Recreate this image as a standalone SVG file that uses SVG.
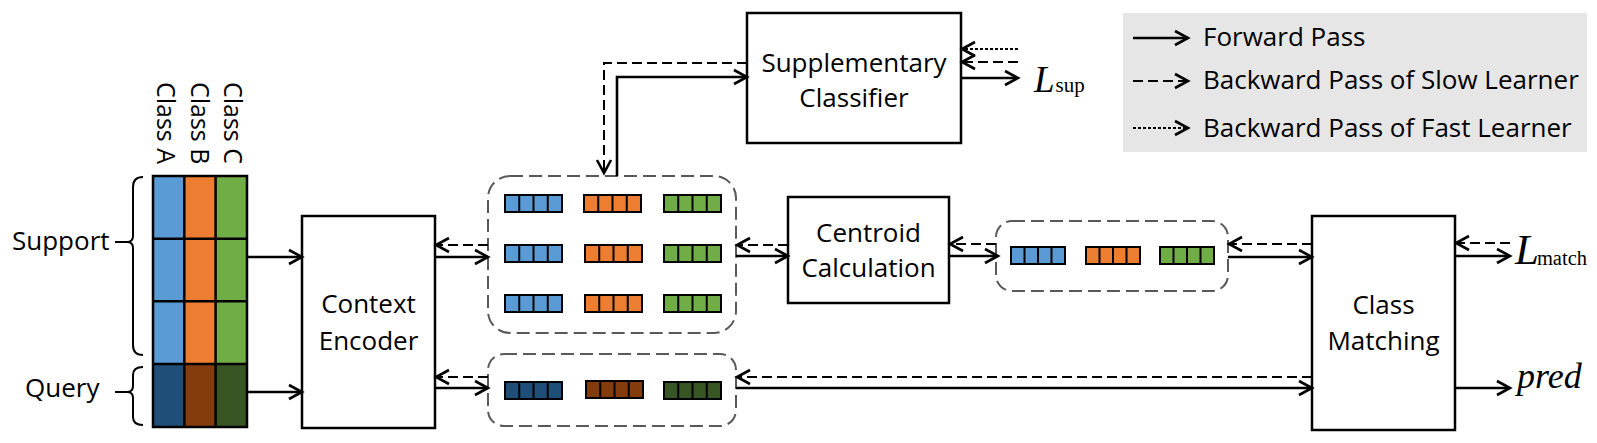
<svg xmlns="http://www.w3.org/2000/svg" xmlns:xlink="http://www.w3.org/1999/xlink" width="1597" height="443" viewBox="0 0 1597 443">
<style>
text{font-family:"Open Sans","Noto Sans","Liberation Sans",sans-serif;fill:#000}
.lbl{font-size:26px}
.mid{text-anchor:middle}
.cls{font-size:25px}
.math{font-family:"Liberation Serif","DejaVu Serif",serif;font-style:italic}
.sub{font-family:"Liberation Serif","DejaVu Serif",serif;font-style:normal}
.box{fill:#fff;stroke:#000;stroke-width:2.5}
.grp{fill:none;stroke:#595959;stroke-width:2;stroke-dasharray:13 6}
.cell{stroke:#000;stroke-width:2}
.fw{fill:none;stroke:#000;stroke-width:2.6;marker-end:url(#ah)}
.bw{fill:none;stroke:#000;stroke-width:2;stroke-dasharray:10 5;marker-end:url(#ah)}
.ft{fill:none;stroke:#000;stroke-width:2;stroke-dasharray:3 2;marker-end:url(#ah)}
.brace{fill:none;stroke:#000;stroke-width:2}
</style>
<defs>
<marker id="ah" markerUnits="userSpaceOnUse" markerWidth="18" markerHeight="18" viewBox="0 0 18 18" refX="15" refY="9" orient="auto">
<path d="M2,2 L15,9 L2,16" fill="none" stroke="#000" stroke-width="2.6" stroke-linejoin="miter"/>
</marker>
<g id="emb" class="cell"><rect x="0" y="0" width="57" height="17"/><line x1="14.25" y1="0" x2="14.25" y2="17"/><line x1="28.5" y1="0" x2="28.5" y2="17"/><line x1="42.75" y1="0" x2="42.75" y2="17"/></g>
<g id="emb2" class="cell"><rect x="0" y="0" width="54" height="17"/><line x1="13.5" y1="0" x2="13.5" y2="17"/><line x1="27" y1="0" x2="27" y2="17"/><line x1="40.5" y1="0" x2="40.5" y2="17"/></g>
</defs>
<rect width="1597" height="443" fill="#fff"/>

<g id="legend">
<rect x="1123" y="13" width="464" height="139" fill="#e6e6e6"/>
<path class="fw" d="M1133,38 H1188"/>
<path class="bw" d="M1133,81 H1188"/>
<path class="ft" d="M1133,128 H1188"/>
<text class="lbl" x="1203" y="46">Forward Pass</text>
<text class="lbl" x="1203" y="89">Backward Pass of Slow Learner</text>
<text class="lbl" x="1203" y="137">Backward Pass of Fast Learner</text>
</g>

<g id="input-grid">
<rect x="153" y="176" width="31.3" height="188" fill="#5b9bd5"/>
<rect x="184.3" y="176" width="31.3" height="188" fill="#ed7d31"/>
<rect x="215.6" y="176" width="31.4" height="188" fill="#70ad47"/>
<rect x="153" y="364" width="31.3" height="63" fill="#1f4e79"/>
<rect x="184.3" y="364" width="31.3" height="63" fill="#843c0c"/>
<rect x="215.6" y="364" width="31.4" height="63" fill="#375623"/>
<g fill="none" stroke="#000" stroke-width="2.5">
<rect x="153" y="176" width="94" height="251"/>
<path d="M184.3,176 V427 M215.6,176 V427 M153,238.7 H247 M153,301.3 H247 M153,364 H247"/>
</g>
<text class="cls" transform="translate(157,82) rotate(90)">Class A</text>
<text class="cls" transform="translate(190.5,82) rotate(90)">Class B</text>
<text class="cls" transform="translate(223.5,82) rotate(90)">Class C</text>
</g>

<g id="support-label">
<text class="lbl" x="12" y="250">Support</text>
<path class="brace" d="M143,177 Q133,177 133,187 V236 Q133,242 127,242 H115 M127,242 Q133,242 133,248 V345 Q133,355 143,355"/>
</g>
<g id="query-label">
<text class="lbl" x="25" y="397">Query</text>
<path class="brace" d="M143,367 Q133,367 133,375 V386 Q133,392 127,392 H115 M127,392 Q133,392 133,398 V417 Q133,425 143,425"/>
</g>

<g id="context-encoder">
<rect class="box" x="302" y="216" width="133" height="212"/>
<text class="lbl mid" x="368.5" y="313">Context</text>
<text class="lbl mid" x="368.5" y="350">Encoder</text>
</g>

<g id="support-embeddings">
<rect class="grp" x="488" y="176" width="248" height="157" rx="22"/>
<use xlink:href="#emb" x="505" y="195" fill="#5b9bd5"/>
<use xlink:href="#emb" x="584" y="195" fill="#ed7d31"/>
<use xlink:href="#emb" x="664" y="195" fill="#70ad47"/>
<use xlink:href="#emb" x="505" y="245" fill="#5b9bd5"/>
<use xlink:href="#emb" x="585" y="245" fill="#ed7d31"/>
<use xlink:href="#emb" x="664" y="245" fill="#70ad47"/>
<use xlink:href="#emb" x="505" y="295" fill="#5b9bd5"/>
<use xlink:href="#emb" x="585" y="295" fill="#ed7d31"/>
<use xlink:href="#emb" x="664" y="295" fill="#70ad47"/>
</g>

<g id="query-embeddings">
<rect class="grp" x="488" y="354" width="248" height="72" rx="16"/>
<use xlink:href="#emb" x="505" y="382" fill="#1f4e79"/>
<use xlink:href="#emb" x="586" y="381" fill="#843c0c"/>
<use xlink:href="#emb" x="664" y="382" fill="#375623"/>
</g>

<g id="supplementary-classifier">
<rect class="box" x="747" y="13" width="214" height="130"/>
<text class="lbl mid" x="854" y="72">Supplementary</text>
<text class="lbl mid" x="854" y="107">Classifier</text>
</g>

<g id="centroid-calculation">
<rect class="box" x="788" y="197" width="161" height="106"/>
<text class="lbl mid" x="868.5" y="242">Centroid</text>
<text class="lbl mid" x="868.5" y="277">Calculation</text>
</g>

<g id="centroid-embeddings">
<rect class="grp" x="996" y="221" width="232" height="70" rx="16"/>
<use xlink:href="#emb2" x="1011" y="247" fill="#5b9bd5"/>
<use xlink:href="#emb2" x="1086" y="247" fill="#ed7d31"/>
<use xlink:href="#emb2" x="1160" y="247" fill="#70ad47"/>
</g>

<g id="class-matching">
<rect class="box" x="1312" y="216" width="143" height="214"/>
<text class="lbl mid" x="1383.5" y="314">Class</text>
<text class="lbl mid" x="1383.5" y="350">Matching</text>
</g>

<g id="loss-sup">
<text class="math" x="1034" y="92" font-size="37">L<tspan class="sub" font-size="21" dx="1">sup</tspan></text>
</g>
<g id="loss-match">
<text class="math" x="1515" y="264" font-size="43">L<tspan class="sub" font-size="20.5" dx="-2" dy="1">match</tspan></text>
</g>
<g id="pred">
<text class="math" x="1517" y="388" font-size="36">pred</text>
</g>

<g id="connectors">
<path class="fw" d="M247,257 H302"/>
<path class="fw" d="M247,392 H302"/>
<path class="bw" d="M488,245 H436"/>
<path class="fw" d="M435,257 H488"/>
<path class="bw" d="M488,377 H436"/>
<path class="fw" d="M435,388 H488"/>
<path class="fw" d="M617,176 V77 H747"/>
<path class="bw" d="M747,63 H604 V173"/>
<path class="fw" d="M961,78 H1018"/>
<path class="bw" d="M1018,62 H962"/>
<path class="ft" d="M1018,49 H962"/>
<path class="fw" d="M736,256 H788"/>
<path class="bw" d="M788,245 H737"/>
<path class="fw" d="M949,256 H998"/>
<path class="bw" d="M996,244 H950"/>
<path class="fw" d="M1228,257 H1312"/>
<path class="bw" d="M1312,244 H1229"/>
<path class="fw" d="M1455,256 H1510"/>
<path class="bw" d="M1510,243 H1456"/>
<path class="fw" d="M1455,388 H1510"/>
<path class="fw" d="M736,388 H1312"/>
<path class="bw" d="M1312,377 H737"/>
</g>
</svg>
